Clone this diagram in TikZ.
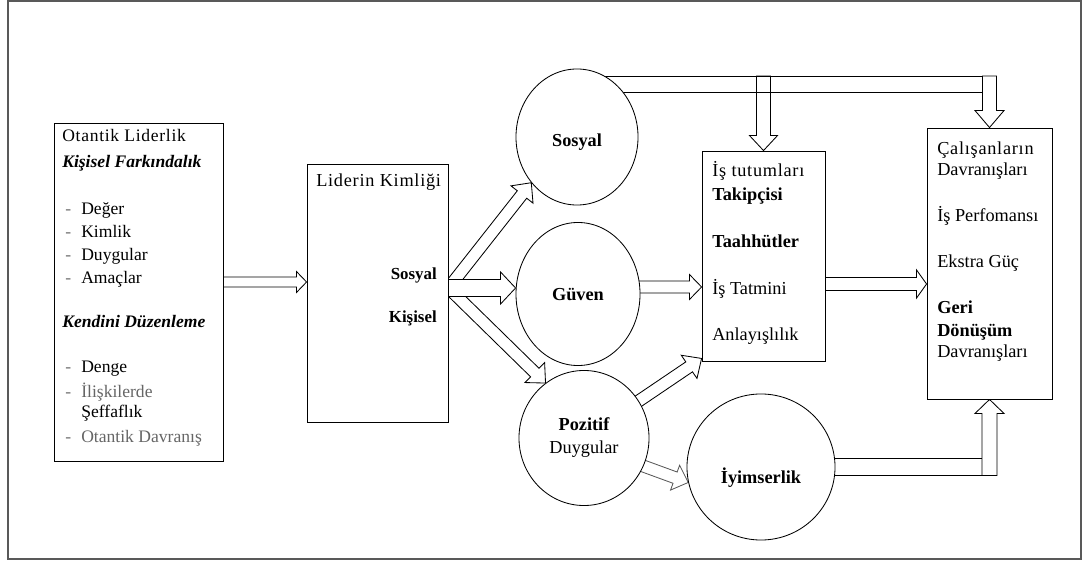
\documentclass[tikz,border=0pt]{standalone}
\usepackage{fontspec}
\setmainfont{Liberation Serif}
\newfontfamily\widefont[LetterSpace=4]{Liberation Serif}
\usetikzlibrary{shapes.geometric,positioning,calc,backgrounds}

\newcommand{\shaftw}{0.16cm}
\newcommand{\headw}{0.35cm}
\newcommand{\headl}{0.33cm}
\newcommand{\itm}{\makebox[0.475cm][l]{\hspace{0.075cm}\color{black!55}-}}

\begin{document}
\begin{tikzpicture}[
    x=0.025cm, y=-0.025cm,
    box/.style={rectangle, draw, line width=0.6pt, fill=white, inner sep=0pt},
    circ/.style={ellipse, draw, line width=0.6pt, fill=white, inner sep=0pt, font=\fontsize{13}{16.4}\selectfont\bfseries},
    txt/.style={inner sep=0pt, align=left, anchor=north west},
    sw/.code={\renewcommand{\shaftw}{#1}},
    hw/.code={\renewcommand{\headw}{#1}},
    hl/.code={\renewcommand{\headl}{#1}},
    hollow/.style={draw, line width=0.6pt, fill=white, to path={
        let \p1=(\tikztostart), \p2=(\tikztotarget), \p3=($(\p2)!\headl!(\p1)$) in
        ($(\p1)!\shaftw!90:(\p2)$) -- ($(\p3)!\shaftw!-90:(\p1)$) -- ($(\p3)!\headw!-90:(\p1)$)
        -- (\p2) -- ($(\p3)!\headw!90:(\p1)$) -- ($(\p3)!\shaftw!90:(\p1)$)
        -- ($(\p1)!\shaftw!-90:(\p2)$) -- cycle}}
]
    \useasboundingbox (0,0) rectangle (1083,563);
    \draw[black!65, line width=1.1pt] (8,1) rectangle (1081,559);

    % boxes
    \node[box, minimum width=4.225cm, minimum height=8.45cm] (olb) at (138.5,292) {};
    \node[box, minimum width=3.525cm, minimum height=6.45cm] (lid) at (377.5,293) {};
    \node[box, minimum width=3.075cm, minimum height=5.25cm] (tut) at (763.5,256) {};
    \node[box, minimum width=3.125cm, minimum height=6.775cm] (cal) at (989.5,263.5) {};

    % circles
    \node[circ, minimum width=3.05cm, minimum height=3.4cm, text height=16pt] (sos) at (577,137) {Sosyal};
    \node[circ, minimum width=3.1cm, minimum height=3.575cm] (gue) at (578,294) {Güven};
    \node[circ, minimum width=3.25cm, minimum height=3.375cm, align=center] (poz) at (584,438) {Pozitif\\\mdseries Duygular};
    \node[circ, minimum width=3.7cm, minimum height=3.65cm, text height=26pt] (iyim) at (761,467) {İyimserlik};

    % texts
    \node[txt, font=\fontsize{12.5}{16.4}\selectfont] (olbtxt) at (62,129) {{\widefont Otantik Liderlik}\\[2.1pt]
        \textbf{\textit{Kişisel Farkındalık}}\\[17pt]
        \itm Değer\\ \itm Kimlik\\ \itm Duygular\\ \itm Amaçlar\\[15pt]
        \textbf{\textit{Kendini Düzenleme}}\\[15.6pt]
        \itm Denge\\[1.4pt] \itm{\color{black!60}İlişkilerde}\\[-2.1pt]
        \hspace{0.475cm}Şeffaflık\\[1.4pt] \itm{\color{black!60}Otantik Davranış}};
    \node[txt, anchor=west, font=\fontsize{13}{16}\widefont] (lidtit) at (316,182) {Liderin Kimliği};
    \node[txt, anchor=east, font=\fontsize{12}{14}\selectfont\bfseries] (lidsos) at (437,275) {Sosyal};
    \node[txt, anchor=east, font=\fontsize{12}{14}\selectfont\bfseries] (lidkis) at (437,318) {Kişisel};
    \node[txt, font=\fontsize{13}{16.4}\selectfont] (tuttxt) at (712,161) {{\widefont İş tutumları}\\[0.7pt]
        \textbf{Takipçisi}\\[17pt] \textbf{Taahhütler}\\[17pt] İş Tatmini\\[16.4pt] Anlayışlılık};
    \node[txt, font=\fontsize{13}{15.3}\selectfont] (caltxt) at (937,141.5) {{\widefont Çalışanların}\\ Davranışları\\[17.4pt]
        İş Perfomansı\\[17.4pt] Ekstra Güç\\[17.4pt] \textbf{Geri}\\[0.7pt] \textbf{Dönüşüm}\\ Davranışları};

    % hollow arrows
    \coordinate (a1) at ($(olb.east)+(0,-10)$);
    \coordinate (fork) at ($(lid.east)+(0,-5)$);
    \coordinate (g2) at ($(gue.east)+(-5,-7)$);
    \coordinate (t2) at ($(tut.east)+(-2,28)$);
    \coordinate (p2t) at ($(tut.south west)+(0,-3)$);
    \coordinate (rail) at ($(sos.center)+(0,-53)$);
    \coordinate (iy) at (iyim.center -| cal.south);
    \begin{scope}[on background layer]
        \draw[hollow, sw=0.125cm, hw=0.26cm, hl=0.25cm] (a1) to (a1 -| lid.west);
        \draw[hollow, sw=0.15cm, hl=0.375cm] (fork) to (sos.225);
        \draw[hollow, sw=0.15cm, hl=0.375cm] (fork) to (poz.125);
        \draw[hollow, sw=0.2125cm, hw=0.4cm, hl=0.375cm] (fork) to (fork -| gue.west);
        \draw[hollow, sw=0.15cm, hw=0.31cm, hl=0.3cm] (g2) to (g2 -| tut.west);
        \draw[hollow, sw=0.1625cm, hw=0.35cm, hl=0.25cm] (t2) to (t2 -| cal.west);
        \draw[hollow, sw=0.15cm, hl=0.375cm] (poz) to (p2t);
        \draw[hollow, draw=black!65, sw=0.15cm, hw=0.33cm, hl=0.35cm] ($(poz.center)+(10,10)$) to (iyim.192);
        \draw[line width=0.6pt] ($(rail)+(0,-8)$) rectangle ($(rail -| cal.north)+(0,8)$);
        \draw[hollow, fill=none, sw=0.175cm, hl=0.375cm] ($(rail -| tut.north)+(0,-8)$) to (tut.north);
        \draw[hollow, sw=0.175cm, hw=0.3625cm, hl=0.425cm] ($(rail -| cal.north)+(0,-8)$) to (cal.north);
        \draw[line width=0.6pt] ($(iyim.center)+(0,-8.5)$) rectangle ($(iy)+(0,8.5)$);
        \draw[hollow, sw=0.1875cm, hw=0.3625cm, hl=0.35cm] ($(iy)+(0,8.5)$) to (cal.south);
    \end{scope}
\end{tikzpicture}
\end{document}
